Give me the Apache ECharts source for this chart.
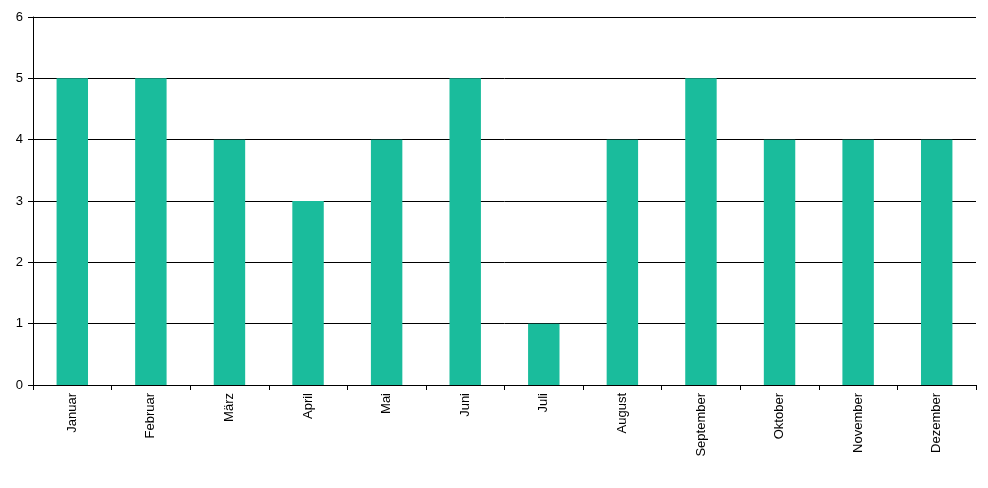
<!DOCTYPE html>
<html>
<head>
<meta charset="utf-8">
<script src="https://cdn.jsdelivr.net/npm/echarts@6/dist/echarts.min.js"></script>
<style>html,body{margin:0;padding:0;background:#fff}#chart{width:988px;height:488px}</style>
</head>
<body>
<div id="chart"></div>
<script>
var months = ['Januar','Februar','März','April','Mai','Juni','Juli','August','September','Oktober','November','Dezember'];
var values = [5, 5, 4, 3, 4, 5, 1, 4, 5, 4, 4, 4];

var chart = echarts.init(document.getElementById('chart'));
chart.setOption({
  animation: false,
  textStyle: { fontFamily: 'Liberation Sans, Arial, sans-serif' },
  grid: { left: 33, right: 12, top: 17, bottom: 103 },
  xAxis: {
    type: 'category',
    data: months,
    axisLine: { lineStyle: { color: '#000' } },
    axisTick: { show: true, length: 5, lineStyle: { color: '#000' } },
    axisLabel: { rotate: 90, color: '#000', fontSize: 13, margin: 8 }
  },
  yAxis: {
    type: 'value',
    min: 0, max: 6, interval: 1,
    axisLine: { show: true, lineStyle: { color: '#000' } },
    axisTick: { show: true, length: 5, lineStyle: { color: '#000' } },
    axisLabel: { color: '#000', fontSize: 13, margin: 10 },
    splitLine: { lineStyle: { color: '#000', width: 1 } }
  },
  series: [{
    type: 'bar',
    data: values,
    barWidth: '40%',
    itemStyle: { color: '#1ABC9C' }
  }]
});
</script>
</body>
</html>
